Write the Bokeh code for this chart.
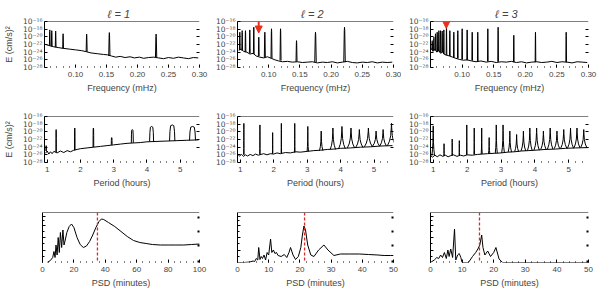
import numpy as np
from bokeh.plotting import figure
from bokeh.layouts import column, row
from bokeh.models import (FixedTicker, CustomJSTickFormatter, LogAxis, LinearAxis,
                          Arrow, NormalHead, Span, Range1d)
from bokeh.embed import file_html
from bokeh.resources import INLINE

FONT = "Liberation Sans"
RED = "#e8321e"
DRED = "#d42a2a"

# ---------------- data (energies stored as log10 exponents) ----------------
TITLES = ["ℓ  =  1", "ℓ  =  2", "ℓ  =  3"]
E_TICKS = [-16, -18, -20, -22, -24, -26, -28]

# Row 1: energy vs frequency (mHz)
L1_BG_F = [0.052, 0.058, 0.065, 0.072, 0.080, 0.090, 0.100, 0.110, 0.118, 0.125, 0.135, 0.145, 0.152,
           0.158, 0.165, 0.172, 0.180, 0.188, 0.195, 0.203, 0.210, 0.218, 0.226, 0.234, 0.242, 0.250,
           0.258, 0.266, 0.274, 0.282, 0.290, 0.298]
L1_BG_E = [-22.0, -22.3, -22.6, -22.8, -23.0, -23.2, -23.4, -23.6, -23.9, -24.2, -24.4, -24.6, -24.7,
           -25.0, -25.3, -25.1, -25.4, -25.2, -25.5, -25.3, -25.6, -25.4, -25.3, -25.5, -25.7, -25.4,
           -25.6, -25.3, -25.5, -25.7, -25.4, -25.5]
L1_PK_F = [0.0585, 0.0617, 0.068, 0.080, 0.118, 0.1546, 0.230]
L1_PK_TOP = [-18.2, -18.4, -18.5, -19.2, -19.3, -18.9, -19.3]
L1_PK_BASE = [-22.3, -22.5, -22.7, -23.0, -23.9, -25.0, -25.3]
L1_PK_W = [0.0006, 0.0006, 0.0006, 0.0006, 0.0008, 0.0010, 0.0010]

L2_BG_F = [0.052, 0.056, 0.060, 0.065, 0.070, 0.075, 0.080, 0.086, 0.092, 0.098, 0.104, 0.110, 0.116,
           0.122, 0.130, 0.138, 0.146, 0.154, 0.162, 0.170, 0.178, 0.186, 0.194, 0.202, 0.210, 0.218,
           0.226, 0.234, 0.242, 0.250, 0.258, 0.266, 0.274, 0.282, 0.290, 0.298]
L2_BG_E = [-23.5, -23.2, -23.8, -24.0, -24.5, -24.3, -25.0, -25.3, -25.5, -25.2, -25.6, -26.0, -26.3,
           -26.5, -26.4, -26.6, -26.5, -26.7, -26.6, -26.5, -26.8, -26.6, -26.7, -26.5, -26.8, -26.6,
           -26.4, -26.7, -26.8, -26.6, -26.7, -26.5, -26.8, -26.6, -26.7, -26.6]
L2_PK_F = [0.0537, 0.0575, 0.0628, 0.0697, 0.0761, 0.0841, 0.0938, 0.1045, 0.119, 0.1446, 0.175, 0.2215]
L2_PK_TOP = [-18.8, -18.4, -18.4, -18.2, -17.5, -20.1, -18.8, -17.9, -17.9, -21.0, -18.8, -17.5]
L2_PK_BASE = [-23.4, -23.6, -24.0, -24.3, -24.5, -25.0, -25.4, -25.6, -26.2, -26.5, -26.6, -26.6]
L2_PK_W = [0.0006, 0.0006, 0.0006, 0.0006, 0.0006, 0.0006, 0.0008, 0.0008, 0.0008, 0.0008, 0.0012, 0.0012]

L3_BG_F = [0.051, 0.054, 0.057, 0.060, 0.063, 0.066, 0.069, 0.072, 0.076, 0.080, 0.085, 0.090, 0.096,
           0.102, 0.108, 0.115, 0.122, 0.130, 0.138, 0.146, 0.154, 0.162, 0.170, 0.178, 0.186, 0.194,
           0.202, 0.210, 0.218, 0.226, 0.234, 0.242, 0.250, 0.258, 0.266, 0.274, 0.282, 0.290, 0.298]
L3_BG_E = [-23.0, -23.8, -23.2, -24.0, -23.5, -24.3, -23.9, -24.6, -24.8, -25.0, -25.3, -25.6, -25.9,
           -26.1, -26.0, -26.3, -26.5, -26.3, -26.6, -26.4, -26.7, -26.5, -26.6, -26.4, -26.7, -26.5,
           -26.8, -26.6, -26.5, -26.7, -26.6, -26.4, -26.7, -26.5, -26.6, -26.8, -26.5, -26.6, -26.7]
L3_PK_F = [0.0527, 0.0553, 0.0579, 0.0606, 0.0632, 0.0658, 0.0685, 0.0711, 0.0753, 0.0806, 0.0869,
           0.0932, 0.1001, 0.108, 0.116, 0.1248, 0.1407, 0.157, 0.1818, 0.2161, 0.2647]
L3_PK_TOP = [-21.0, -20.1, -19.2, -18.8, -18.4, -18.4, -18.5, -18.2, -17.5, -18.4, -18.8, -18.4, -17.9,
             -18.2, -18.8, -18.8, -17.9, -17.5, -19.6, -18.8, -18.8]
L3_PK_BASE = [-23.4, -23.6, -23.5, -23.9, -23.8, -24.1, -24.0, -24.5, -24.8, -25.0, -25.4, -25.6, -25.9,
              -26.1, -26.2, -26.4, -26.4, -26.5, -26.6, -26.6, -26.6]
L3_PK_W = [0.0005] * 21

# Row 2: energy vs period (hours)
P1_BG_P = [0.95, 1.0, 1.05, 1.1, 1.15, 1.2, 1.3, 1.4, 1.5, 1.6, 1.7, 1.8, 1.9, 2.0, 2.2, 2.4, 2.6, 2.8,
           3.0, 3.2, 3.4, 3.6, 3.8, 4.0, 4.3, 4.6, 4.9, 5.2, 5.55]
P1_BG_E = [-25.6, -25.0, -25.8, -25.2, -25.7, -25.1, -25.5, -25.0, -25.4, -24.9, -25.2, -24.8, -24.6,
           -24.4, -24.2, -24.0, -23.8, -23.6, -23.4, -23.2, -23.0, -22.9, -22.8, -22.6, -22.5, -22.4,
           -22.3, -22.2, -22.1]
P1_PK_P = [0.97, 1.27, 1.83, 2.39, 2.94, 3.56, 4.14, 4.76, 5.37]
P1_PK_TOP = [-23.6, -19.4, -19.0, -19.0, -21.5, -19.4, -18.6, -18.2, -18.6]
P1_PK_BASE = [-25.0, -25.3, -24.8, -24.0, -23.4, -22.9, -22.5, -22.4, -22.2]
P1_PK_W = [0.005, 0.006, 0.008, 0.01, 0.012, 0.03, 0.06, 0.08, 0.09]

P2_BG_P = [0.92, 0.98, 1.04, 1.10, 1.16, 1.22, 1.30, 1.38, 1.46, 1.54, 1.62, 1.70, 1.80, 1.90, 2.0,
           2.1, 2.2, 2.35, 2.5, 2.65, 2.8, 3.0, 3.2, 3.4, 3.6, 3.8, 4.0, 4.3, 4.6, 4.9, 5.2, 5.55]
P2_BG_E = [-25.8, -26.3, -25.9, -26.4, -26.0, -26.3, -25.9, -26.2, -25.8, -26.1, -25.9, -25.7, -26.0,
           -25.7, -25.8, -25.5, -25.7, -25.4, -25.5, -25.2, -25.3, -25.1, -24.9, -24.8, -24.6, -24.5,
           -24.3, -24.2, -24.0, -23.9, -23.7, -23.6]
P2_PK_P = [1.11, 1.59, 1.97, 2.23, 2.63, 3.02, 3.42, 3.77, 4.04, 4.31, 4.56, 4.83, 5.06, 5.27, 5.52]
P2_PK_TOP = [-17.8, -18.2, -20.2, -17.8, -17.8, -18.6, -19.8, -19.0, -18.6, -19.0, -19.4, -19.0, -19.8,
             -19.4, -17.8]
P2_PK_BASE = [-26.0, -25.9, -25.7, -25.6, -25.4, -25.1, -24.9, -24.6, -24.4, -24.2, -24.1, -23.9, -23.8,
              -23.7, -23.6]
P2_PK_W = [0.005, 0.006, 0.006, 0.007, 0.008, 0.02, 0.05, 0.08, 0.1, 0.11, 0.11, 0.12, 0.11, 0.1, 0.12]

P3_BG_P = [0.92, 0.98, 1.05, 1.12, 1.20, 1.28, 1.36, 1.44, 1.52, 1.60, 1.70, 1.80, 1.90, 2.0, 2.15,
           2.3, 2.45, 2.6, 2.8, 3.0, 3.2, 3.4, 3.6, 3.8, 4.0, 4.3, 4.6, 4.9, 5.2, 5.6]
P3_BG_E = [-26.2, -26.6, -26.1, -26.5, -26.0, -26.4, -26.1, -26.5, -26.2, -26.0, -26.4, -26.1, -26.3,
           -26.0, -26.1, -25.9, -25.8, -25.7, -25.6, -25.5, -25.3, -25.2, -25.0, -24.9, -24.8, -24.6,
           -24.5, -24.3, -24.2, -24.1]
P3_PK_P = [1.00, 1.32, 1.56, 1.77, 1.99, 2.21, 2.43, 2.65, 2.86, 3.06, 3.26, 3.46, 3.66, 3.85, 4.05,
           4.25, 4.45, 4.65, 4.85, 5.05, 5.24, 5.44]
P3_PK_TOP = [-18.45, -23.1, -21.9, -22.3, -18.2, -19.0, -19.0, -21.5, -18.2, -18.2, -19.8, -20.7, -19.8,
             -19.0, -19.0, -19.8, -19.0, -19.8, -19.4, -19.0, -19.0, -19.4]
P3_PK_BASE = [-26.2, -26.3, -26.2, -26.1, -26.0, -25.9, -25.8, -25.7, -25.6, -25.5, -25.3, -25.2, -25.0,
              -24.9, -24.8, -24.6, -24.5, -24.4, -24.3, -24.3, -24.2, -24.1]
P3_PK_W = [0.04, 0.005, 0.006, 0.006, 0.008, 0.01, 0.015, 0.02, 0.03, 0.04, 0.05, 0.06, 0.07, 0.07, 0.08,
           0.08, 0.08, 0.08, 0.09, 0.09, 0.09, 0.09]

# Row 3: period spacing distribution (PSD, minutes)
S1_X = [3, 5, 6.5, 7.3, 8.0, 8.6, 9.3, 10.0, 10.7, 11.4, 12.2, 13.0, 13.7, 14.5, 15.5, 17.0, 18.5, 20.0,
        22.0, 24.0, 26.0, 28.0, 30.0, 32.0, 34.0, 36.0, 37.5, 39.0, 42.0, 46.0, 50.0, 54.0, 58.0, 62.0,
        66.0, 70.0, 75.0, 80.0, 85.0, 90.0, 95.0, 100.0]
S1_Y = [0.0, 0.04, 0.1, 0.22, 0.1, 0.35, 0.15, 0.5, 0.2, 0.6, 0.3, 0.65, 0.35, 0.45, 0.6, 0.72, 0.77,
        0.7, 0.5, 0.36, 0.30, 0.33, 0.42, 0.55, 0.7, 0.82, 0.87, 0.86, 0.8, 0.72, 0.62, 0.52, 0.44, 0.40,
        0.38, 0.36, 0.35, 0.35, 0.35, 0.35, 0.36, 0.37]
S2_X = [0, 2, 4, 5, 5.5, 6.0, 6.5, 6.8, 7.2, 7.6, 8.0, 8.5, 9.0, 9.5, 10.0, 10.6, 11.0, 11.5, 12.0,
        12.5, 13.0, 14.0, 15.0, 15.8, 16.5, 17.0, 17.8, 18.6, 19.5, 20.3, 20.8, 21.3, 21.8, 22.5, 23.5,
        24.5, 26.0, 27.7, 29.0, 30.9, 33.0, 36.0, 39.0, 42.0, 45.0, 47.0, 49.0, 50.0]
S2_Y = [0.0, 0.0, 0.01, 0.03, 0.02, 0.08, 0.05, 0.3, 0.06, 0.12, 0.08, 0.15, 0.05, 0.2, 0.15, 0.47, 0.2,
        0.25, 0.18, 0.2, 0.14, 0.12, 0.16, 0.1, 0.2, 0.3, 0.15, 0.06, 0.12, 0.3, 0.55, 0.73, 0.65, 0.35,
        0.15, 0.12, 0.25, 0.35, 0.25, 0.14, 0.17, 0.17, 0.17, 0.16, 0.15, 0.14, 0.14, 0.14]
S3_X = [0, 1.2, 2.0, 2.6, 3.2, 3.8, 4.4, 5.0, 5.5, 5.9, 6.4, 7.0, 7.6, 8.0, 8.6, 9.1, 9.6, 10.0, 12.0,
        13.3, 14.3, 15.0, 15.6, 16.2, 16.6, 17.2, 18.1, 19.0, 20.0, 20.7, 21.7, 22.8, 30.0, 40.0, 50.0]
S3_Y = [0.0, 0.05, 0.1, 0.08, 0.15, 0.1, 0.2, 0.08, 0.25, 0.12, 0.27, 0.1, 0.67, 0.05, 0.15, 0.18, 0.1,
        0.0, 0.0, 0.12, 0.2, 0.27, 0.35, 0.55, 0.3, 0.15, 0.23, 0.12, 0.2, 0.3, 0.07, 0.0, 0.0, 0.0, 0.0]
S_MARK = [35.0, 21.5, 15.5]
S_XMAX = [100, 50, 50]

# red arrows (x, log10 start, log10 end) in panels l=2 and l=3 of row 1
ARROW_L2 = [0.084, -13.7, -19.0]
ARROW_L3 = [0.075, -13.0, -17.8]

# peak drawing profiles (shape only)
SPIKE_DX = [-1, -0.3, 0, 0.3, 1]
SPIKE_H = [0, 0.9, 1, 0.9, 0]
DOME_DX = [-1, -0.85, -0.6, 0, 0.6, 0.85, 1]
DOME_H = [0, 0.6, 0.95, 1, 0.95, 0.6, 0]
CUSP_DX = [-1, -0.5, -0.2, -0.05, 0, 0.05, 0.2, 0.5, 1]
CUSP_H = [0, 0.2, 0.45, 0.8, 1, 0.8, 0.45, 0.2, 0]

SUP_JS = """
const e = Math.round(Math.log10(tick));
const m = {'-':'\u207b','0':'\u2070','1':'\u00b9','2':'\u00b2','3':'\u00b3','4':'\u2074',
           '5':'\u2075','6':'\u2076','7':'\u2077','8':'\u2078','9':'\u2079'};
return '10' + String(e).split('').map(c => m[c]).join('');
"""

# page layout: Bokeh's page has no body margin, content starts at (0, 0)
COLS = [dict(w=208, bl=42, br=9), dict(w=193, bl=29, br=8), dict(w=198, bl=29, br=11)]
ROWS = [dict(h=95, bt=21, bb=28), dict(h=95, bt=21, bb=25), dict(h=100, bt=22, bb=28)]


def peak_paths(c, top, base, w, dx, hh):
    xs, ys = [], []
    for ci, ti, bi, wi in zip(c, top, base, w):
        xs.append([ci + d * wi for d in dx])
        ys.append([10 ** (bi + f * (ti - bi)) for f in hh])
    return xs, ys


def make_fig(ci, ri, x_range, y_range, log):
    col, rw = COLS[ci], ROWS[ri]
    p = figure(width=col["w"], height=rw["h"], x_range=x_range, y_range=y_range,
               y_axis_type="log" if log else "linear", output_backend="svg",
               toolbar_location=None, min_border_left=col["bl"], min_border_right=col["br"],
               min_border_top=rw["bt"], min_border_bottom=rw["bb"])
    p.grid.visible = False
    p.outline_line_color = None
    p.border_fill_color = "white"
    p.background_fill_color = "white"
    p.add_layout(Span(location=y_range.end, dimension="width", line_color="black", line_width=1))
    return p


def style_x(p, ticks, minor, label, fmt_digits):
    ax = p.xaxis[0]
    ax.ticker = FixedTicker(ticks=ticks, minor_ticks=minor)
    ax.formatter = CustomJSTickFormatter(code="return tick.toFixed(%d);" % fmt_digits)
    ax.axis_line_color = None
    ax.major_tick_in = 3
    ax.major_tick_out = 0
    ax.minor_tick_in = 1
    ax.minor_tick_out = 0
    ax.major_label_standoff = 4
    ax.major_label_text_font = FONT
    ax.major_label_text_font_size = "8px"
    ax.axis_label = label
    ax.axis_label_text_font = FONT
    ax.axis_label_text_font_size = "9px"
    ax.axis_label_text_font_style = "normal"
    ax.axis_label_standoff = 3


def right_axis(p, axis_cls, ticks, width, length):
    ax = axis_cls(ticker=FixedTicker(ticks=ticks, minor_ticks=[]),
                  formatter=CustomJSTickFormatter(code="return '';"),
                  major_tick_in=length, major_tick_out=0, major_tick_line_width=width,
                  major_label_standoff=0, axis_line_color=None)
    p.add_layout(ax, "right")


def style_y_log(p, ylabel):
    tick_vals = [10.0 ** e for e in E_TICKS]
    ax = p.yaxis[0]
    ax.ticker = FixedTicker(ticks=tick_vals, minor_ticks=[])
    ax.formatter = CustomJSTickFormatter(code=SUP_JS)
    ax.major_tick_in = 3
    ax.major_tick_out = 0
    ax.major_label_standoff = 2
    ax.major_label_text_font = "DejaVu Sans"
    ax.major_label_text_font_size = "7.5px"
    ax.axis_line_color = "black"
    if ylabel:
        ax.axis_label = ylabel
        ax.axis_label_text_font = FONT
        ax.axis_label_text_font_size = "9px"
        ax.axis_label_text_font_style = "normal"
        ax.axis_label_standoff = 6
    right_axis(p, LogAxis, tick_vals[1:5], 1, 3)


def style_y_lin(p):
    ax = p.yaxis[0]
    ax.ticker = FixedTicker(ticks=[0.25, 0.5, 0.75, 0.92], minor_ticks=[0.125, 0.375, 0.625, 0.835])
    ax.formatter = CustomJSTickFormatter(code="return '';")
    ax.major_label_standoff = 0
    ax.major_tick_in = 3
    ax.major_tick_out = 0
    ax.minor_tick_in = 2
    ax.minor_tick_out = 0
    ax.axis_line_color = "black"
    right_axis(p, LinearAxis, [0.02, 0.35, 0.62, 0.9], 2, 2)


# ---- Row 1 ----
freq_ticks = [0.10, 0.15, 0.20, 0.25, 0.30]
freq_minor = [round(0.05 + 0.01 * i, 2) for i in range(26)]
row1_data = [(L1_BG_F, L1_BG_E, L1_PK_F, L1_PK_TOP, L1_PK_BASE, L1_PK_W),
             (L2_BG_F, L2_BG_E, L2_PK_F, L2_PK_TOP, L2_PK_BASE, L2_PK_W),
             (L3_BG_F, L3_BG_E, L3_PK_F, L3_PK_TOP, L3_PK_BASE, L3_PK_W)]
row1 = []
for i, (bf, be, pf, pt, pb, pw) in enumerate(row1_data):
    p = make_fig(i, 0, Range1d(0.05, 0.30), Range1d(1e-28, 1e-16), True)
    p.title.text = TITLES[i]
    p.title.align = "center"
    p.title.text_font = FONT
    p.title.text_font_size = "11px"
    p.title.text_font_style = "italic"
    p.title.standoff = 3
    p.line(bf, [10 ** e for e in be], line_color="black", line_width=1)
    xs, ys = peak_paths(pf, pt, pb, pw, SPIKE_DX, SPIKE_H)
    p.multi_line(xs, ys, line_color="black", line_width=1)
    style_x(p, freq_ticks, freq_minor, "Frequency (mHz)", 2)
    style_y_log(p, "E (cm/s)²" if i == 0 else None)
    row1.append(p)

for p, arr in ((row1[1], ARROW_L2), (row1[2], ARROW_L3)):
    p.add_layout(Arrow(end=NormalHead(size=7, fill_color=RED, line_color=RED),
                       x_start=arr[0], y_start=10 ** arr[1], x_end=arr[0], y_end=10 ** arr[2],
                       line_color=RED, line_width=2, level="overlay"))

# ---- Row 2 ----
per_ticks = [1, 2, 3, 4, 5]
per_minor = [round(1.0 + 0.2 * i, 1) for i in range(24)]
row2_data = [(P1_BG_P, P1_BG_E, P1_PK_P, P1_PK_TOP, P1_PK_BASE, P1_PK_W, DOME_DX, DOME_H),
             (P2_BG_P, P2_BG_E, P2_PK_P, P2_PK_TOP, P2_PK_BASE, P2_PK_W, CUSP_DX, CUSP_H),
             (P3_BG_P, P3_BG_E, P3_PK_P, P3_PK_TOP, P3_PK_BASE, P3_PK_W, CUSP_DX, CUSP_H)]
row2 = []
for i, (bp, be, pp, pt, pb, pw, dx, hh) in enumerate(row2_data):
    p = make_fig(i, 1, Range1d(0.92, 5.58), Range1d(1e-28, 1e-16), True)
    p.line(bp, [10 ** e for e in be], line_color="black", line_width=1)
    xs, ys = peak_paths(pp, pt, pb, pw, dx, hh)
    p.multi_line(xs, ys, line_color="black", line_width=1)
    style_x(p, per_ticks, per_minor, "Period (hours)", 0)
    style_y_log(p, "E (cm/s)²" if i == 0 else None)
    row2.append(p)

# ---- Row 3 ----
row3 = []
for i, (sx, sy) in enumerate(((S1_X, S1_Y), (S2_X, S2_Y), (S3_X, S3_Y))):
    xmax = S_XMAX[i]
    p = make_fig(i, 2, Range1d(0, xmax), Range1d(0, 1.0), False)
    p.line(sx, sy, line_color="black", line_width=1)
    p.add_layout(Span(location=S_MARK[i], dimension="height", line_color=DRED,
                      line_dash="3 2", line_width=1.3, level="overlay"))
    step = xmax // 5
    ticks = [step * k for k in range(6)]
    minor = [step / 5 * k for k in range(26)]
    style_x(p, ticks, minor, "PSD (minutes)", 0)
    style_y_lin(p)
    row3.append(p)

layout = column(row(*row1), row(*row2), row(*row3))
open("out.html", "w").write(file_html(layout, INLINE))
